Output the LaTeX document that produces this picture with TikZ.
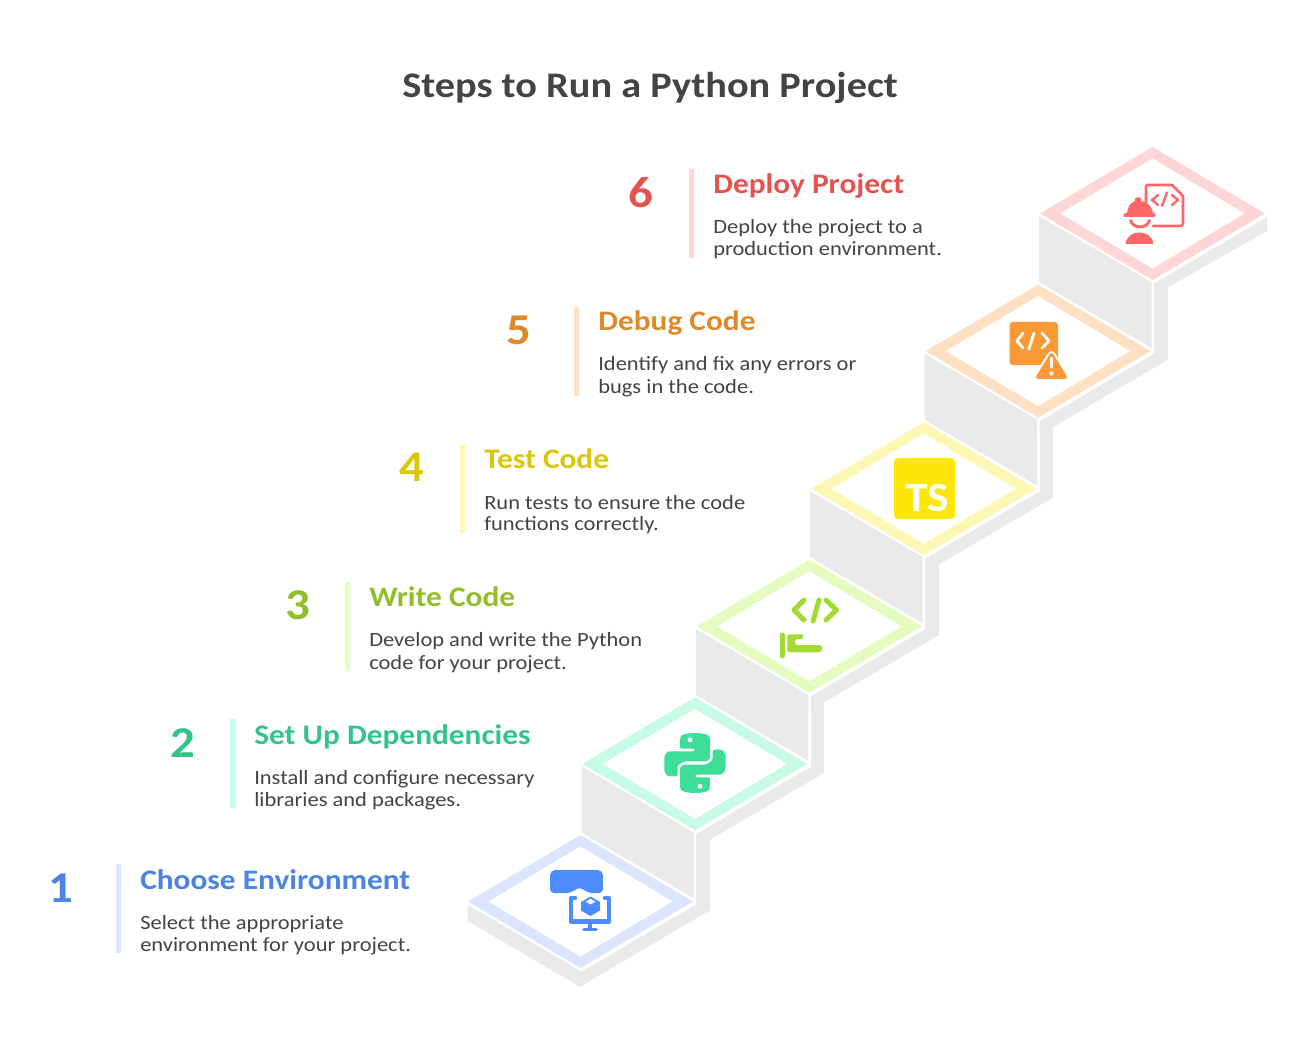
\documentclass[tikz,border=0pt]{standalone}
\usepackage{fontspec}
\setmainfont{Carlito}
\newfontfamily\widetitle{Carlito}[FakeStretch=1.12]
\newfontfamily\widehead{Carlito}[FakeStretch=1.11]
\newfontfamily\widebody{Carlito}[FakeStretch=1.11]
\definecolor{ink}{HTML}{444444}
\definecolor{wall}{HTML}{EAEAEA}
\definecolor{tA}{HTML}{4B84E4}\definecolor{lA}{HTML}{DBE6FE}\definecolor{iA}{HTML}{4D8BFF}
\definecolor{tB}{HTML}{34C48B}\definecolor{lB}{HTML}{C8FBE5}\definecolor{iB}{HTML}{3EDD98}
\definecolor{tC}{HTML}{93BE2C}\definecolor{lC}{HTML}{E4FCC0}\definecolor{iC}{HTML}{A3DB35}
\definecolor{tD}{HTML}{DCC608}\definecolor{lD}{HTML}{FEF7B5}\definecolor{iD}{HTML}{FFE60A}
\definecolor{tE}{HTML}{DE8A2A}\definecolor{lE}{HTML}{FFE0C2}\definecolor{iE}{HTML}{F99A36}
\definecolor{tF}{HTML}{E5534F}\definecolor{lF}{HTML}{FFD6D6}\definecolor{iF}{HTML}{FF6666}
\tikzset{
  titletext/.style={anchor=base,inner sep=0pt,text=ink,font=\widetitle\fontsize{27}{30}\selectfont\bfseries},
  headtext/.style={anchor=base west,inner sep=0pt,font=\widehead\fontsize{21.2}{25}\selectfont\bfseries},
  numtext/.style={anchor=center,inner sep=0pt,font=\widehead\fontsize{33}{36}\selectfont\bfseries},
  desctext/.style={anchor=base west,inner sep=0pt,text=ink,font=\widebody\fontsize{15.2}{17}\selectfont},
  stroke/.style={line cap=round,line join=round,line width=3.75pt},
  thin stroke/.style={line cap=round,line join=round,line width=1.8pt}
}
\newcommand{\snake}{%
  \fill[iB,rounded corners=1.5] (-15,-14.3) -- (-15,-25) .. controls (-12,-31) and (12,-31) .. (15,-25)
    -- (15,-7.3) .. controls (15,-3.5) and (12,-1.7) .. (8.3,-1.7) -- (-6.7,-1.7)
    .. controls (-11,-1.7) and (-17.5,1) .. (-17.5,6.7) -- (-17.5,13.3) -- (-23,13.3)
    .. controls (-28,13.3) and (-30.6,10) .. (-30.6,5) -- (-30.6,-3.3)
    .. controls (-30.6,-8) and (-28,-11.7) .. (-23,-11.7) -- (0,-11.7) -- (0,-14.3) -- cycle;
  \fill[white] (-5,-23.3) circle (2.4);
}
\begin{document}
\begin{tikzpicture}[x=0.75pt,y=-0.75pt]
\useasboundingbox (0,0) rectangle (1300,1062);
\fill[white] (0,0) rectangle (1300,1062);
\node[titletext] (title) at (650,98) {Steps to Run a Python Project};

% stair walls
\foreach \i/\li in {0/lA,1/lB,2/lC,3/lD,4/lE,5/lF}{
  \pgfmathsetmacro\cx{580.5+114.4*\i}
  \pgfmathsetmacro\cy{901.5-137.6*\i}
  \ifnum\i=5
    \fill[wall] (\cx+1.5,\cy+70)--(\cx+114.5,\cy+3.5)--(\cx+114.5,\cy+17.5)--(\cx+15,\cy+74)--(\cx+1.5,\cy+80)--cycle;
  \else
    \fill[wall] (\cx+1.5,\cy+70)--(\cx+115.5,\cy+3)--(\cx+129,\cy+3)--(\cx+129,\cy+9)--(\cx+15,\cy+76)--(\cx+1.5,\cy+84)--cycle;
  \fi
  \ifnum\i=0
    \fill[wall] (\cx+16,\cy+75)--(\cx,\cy+85.5)--(\cx-113,\cy+19.5)--(\cx-113,\cy+3)--(\cx,\cy+69.5)--(\cx+1.5,\cy+70)--cycle;
  \else
    \fill[wall] (\cx-113.5,\cy+2.5)--(\cx-1,\cy+68.5)--(\cx-1,\cy+134.5)--(\cx-113.5,\cy+68.5)--cycle;
    \fill[wall] (\cx+1.5,\cy+70) rectangle (\cx+15,\cy+147);
  \fi
  \fill[\li] (\cx-112.5,\cy)--(\cx,\cy-66.5)--(\cx+112.5,\cy)--(\cx,\cy+66.5)--cycle;
  \fill[white] (\cx-92,\cy)--(\cx,\cy-55)--(\cx+92,\cy)--(\cx,\cy+55)--cycle;
}

% step texts
\fill[lA] (116,864) rectangle (121,953);
\node[numtext,text=tA] (n1) at (61,888) {1};
\node[headtext,text=tA] (h1) at (140,889) {Choose Environment};
\node[desctext] (d1a) at (140,929) {Select the appropriate};
\node[desctext] (d1b) at (140,951) {environment for your project.};

\fill[lB] (230,719) rectangle (235,808);
\node[numtext,text=tB] (n2) at (183,743) {2};
\node[headtext,text=tB] (h2) at (254,744) {Set Up Dependencies};
\node[desctext] (d2a) at (254,784) {Install and configure necessary};
\node[desctext] (d2b) at (254,806) {libraries and packages.};

\fill[lC] (345,582) rectangle (350,671);
\node[numtext,text=tC] (n3) at (298,605) {3};
\node[headtext,text=tC] (h3) at (369,606) {Write Code};
\node[desctext] (d3a) at (369,646) {Develop and write the Python};
\node[desctext] (d3b) at (369,669) {code for your project.};

\fill[lD] (460,444) rectangle (465,533);
\node[numtext,text=tD] (n4) at (412,467) {4};
\node[headtext,text=tD] (h4) at (484,469) {Test Code};
\node[desctext] (d4a) at (484,509) {Run tests to ensure the code};
\node[desctext] (d4b) at (484,531) {functions correctly.};

\fill[lE] (574,307) rectangle (579,396);
\node[numtext,text=tE] (n5) at (519,330) {5};
\node[headtext,text=tE] (h5) at (598,331) {Debug Code};
\node[desctext] (d5a) at (598,371) {Identify and fix any errors or};
\node[desctext] (d5b) at (598,394) {bugs in the code.};

\fill[lF] (689,169) rectangle (694,258);
\node[numtext,text=tF] (n6) at (641,193) {6};
\node[headtext,text=tF] (h6) at (713,194) {Deploy Project};
\node[desctext] (d6a) at (713,234) {Deploy the project to a};
\node[desctext] (d6b) at (713,256) {production environment.};

% icon 1: headset and monitor
\fill[iA,rounded corners=4] (550,870) rectangle (603,887);
\fill[iA,rounded corners=3] (550,880) -- (550,893) -- (571,893) -- (577,888) -- (582,888) -- (588,893) -- (603,893) -- (603,880) -- cycle;
\draw[iA,line width=3.4pt,line join=round,line cap=round] (575,898) -- (571,898) -- (571,921.5) -- (609,921.5) -- (609,898) -- (605,898);
\draw[iA,line width=2.8pt,line cap=round] (590,922) -- (590,929);
\draw[iA,line width=2.8pt,line cap=round] (584,929.5) -- (596,929.5);
\fill[iA] (590.5,896.5)--(600,902)--(600,910.5)--(590.5,916)--(581,910.5)--(581,902)--cycle;
\fill[white] (590.5,898.8)--(595.5,901.8)--(590.5,904.4)--(585.5,901.8)--cycle;

% icon 2: python
\begin{scope}[shift={(695,763)}]
  \snake
  \begin{scope}[rotate=180]\snake\end{scope}
\end{scope}

% icon 3: code and hand
\draw[iC,stroke] (804,600)--(794,610)--(804,620);
\draw[iC,stroke] (819,600)--(813,621);
\draw[iC,stroke] (826,600)--(836.5,610)--(826,620);
\draw[iC,stroke] (782,635)--(782,656);
\fill[iC,rounded corners=1.2] (787.3,634.3)--(803.3,634.3)--(803.3,639)--(795,639)--(795,645)--(818,645)
  .. controls (823,645.5) and (823,651.8) .. (818,652.3) -- (787.3,652.3)--cycle;

% icon 4: TS
\fill[iD,rounded corners=3] (894,458) rectangle (955,519);
\node[anchor=center,inner sep=0pt,text=white,font=\fontsize{31}{31}\selectfont\bfseries] (ts) at (927.5,498) {\scalebox{1.1}[1]{TS}};

% icon 5: code warning
\fill[iE,rounded corners=2.5] (1009.5,322) rectangle (1058,365);
\draw[white,stroke,line width=2.1pt] (1023,333)--(1017,341)--(1023,348);
\draw[white,stroke,line width=2.1pt] (1034,333)--(1029,349);
\draw[white,stroke,line width=2.1pt] (1042,333)--(1049,341)--(1042,348);
\draw[white,fill=white,line width=6pt,line join=round] (1051.5,355)--(1065,377)--(1038,377)--cycle;
\draw[iE,fill=iE,line width=3pt,line join=round] (1051.5,355)--(1065,377)--(1038,377)--cycle;
\draw[white,line width=2.4pt,line cap=round] (1051.5,358)--(1051.5,367);
\fill[white] (1051.5,373.5) circle (2.1);

% icon 6: engineer and code file
\draw[iF,line width=1.9pt,line join=round,line cap=round] (1146,204)--(1146,187)--(1147,185)--(1172,185)--(1183,196)--(1183,224)--(1181,226)--(1153,226);
\draw[iF,thin stroke] (1158,195)--(1152,200)--(1158,205);
\draw[iF,thin stroke] (1167,192.5)--(1162,206);
\draw[iF,thin stroke] (1172,195)--(1178,200)--(1172,205);
\fill[iF] (1127,215) .. controls (1127,207) and (1131,202) .. (1135,201) -- (1135,199) .. controls (1136,196.5) and (1140,196.5) .. (1141,199) -- (1141,201) .. controls (1148,202) and (1153,207) .. (1153,215) -- cycle;
\draw[iF,line width=3pt,line cap=round] (1125.5,215.5)--(1153.5,215.5);
\draw[iF,line width=2.2pt,line cap=round] (1130.5,220.5) .. controls (1133,229) and (1147,229) .. (1149.5,220.5);
\fill[iF] (1125.5,244) .. controls (1126.5,236) and (1133,232.5) .. (1139.5,232.5) .. controls (1146,232.5) and (1152.5,236) .. (1153.5,244) -- cycle;
\end{tikzpicture}
\end{document}
